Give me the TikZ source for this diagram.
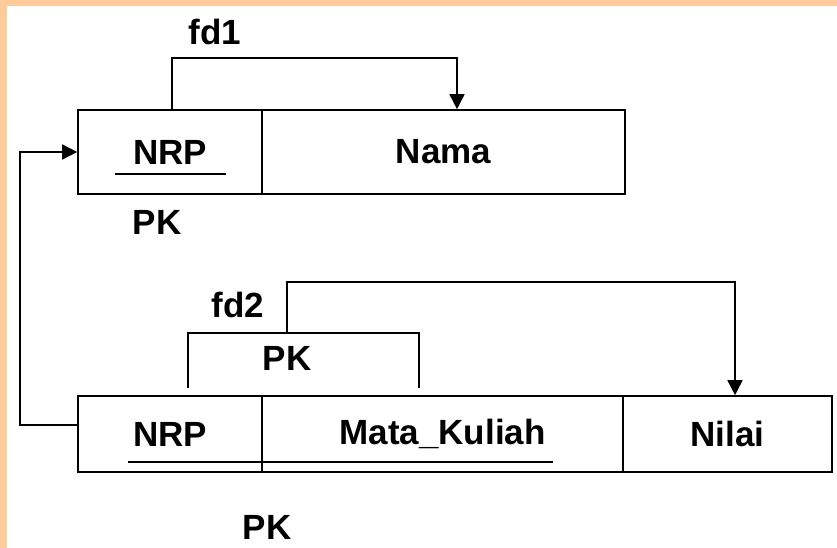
\documentclass[tikz,border=0pt]{standalone}
\usepackage{fontspec}
\setmainfont{Liberation Sans}
\usetikzlibrary{arrows.meta}
\definecolor{frameorange}{HTML}{FFCC99}
\tikzset{
  cell/.style={draw=black, line width=1.6pt, inner sep=0pt, anchor=center,
    font=\fontsize{35}{40}\selectfont\bfseries},
  lbl/.style={inner sep=0pt, font=\fontsize{35}{40}\selectfont\bfseries},
  conn/.style={draw=black, line width=1.6pt},
  tip/.style={-{Triangle[length=15pt,width=15pt]}},
  uline/.style={draw=black, line width=1.6pt}
}
\begin{document}
\begin{tikzpicture}[x=1pt,y=-1pt]
\useasboundingbox (0,0) rectangle (837,548);
\fill[frameorange] (0,0) rectangle (837,548);
\fill[white] (7,6) rectangle (837,548);

% top table
\node[cell, minimum width=184pt, minimum height=84pt] (nrp1) at (170,152) {NRP};
\node[cell, minimum width=363pt, minimum height=84pt] (nama) at (443.5,152) {Nama};
\draw[uline] (115,174) -- (226,174);
\node[lbl] (pk1) at (157,222) {PK};

% bottom table
\node[cell, minimum width=184pt, minimum height=76pt] (nrp2) at (170,434) {NRP};
\node[cell, minimum width=361pt, minimum height=76pt] (mk) at (442.5,434) {Mata\_Kuliah};
\node[cell, minimum width=209pt, minimum height=76pt] (nilai) at (727.5,434) {Nilai};
\draw[uline] (128,462) -- (553,462);
\node[lbl] (pk3) at (267,527) {PK};

% fd1
\node[lbl] (fd1) at (215,32) {fd1};
\coordinate (f1s) at (nrp1.north -| 172,0);
\coordinate (f1e) at (nama.north -| 457,0);
\draw[conn,tip] (f1s) -- ++(0,-51) -| (f1e);

% PK bracket and fd2
\coordinate (b1) at (188,388);
\coordinate (b2) at (419,388);
\draw[conn] (b1) -- (188,333) -- (419,333) -- (b2);
\node[lbl] (pk2) at (287,358) {PK};
\node[lbl] (fd2) at (238,305) {fd2};
\coordinate (f2s) at (287,333);
\coordinate (f2e) at (nilai.north -| 735,0);
\draw[conn,tip] (f2s) -- (287,282) -| (f2e);

% referential connector
\coordinate (rs) at (nrp2.west |- 0,425);
\draw[conn,tip] (rs) -- (20,425) |- (nrp1.west);
\end{tikzpicture}
\end{document}
